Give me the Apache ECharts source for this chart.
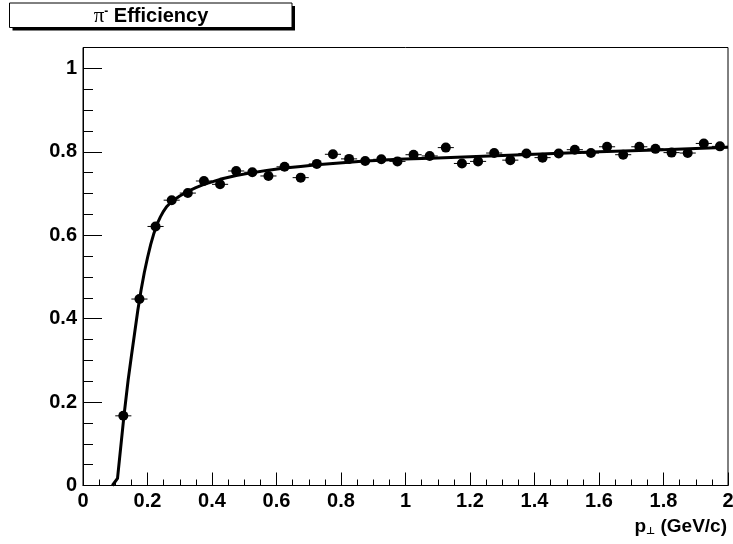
<!DOCTYPE html>
<html>
<head>
<meta charset="utf-8">
<title>pi- Efficiency</title>
<script src="https://cdn.jsdelivr.net/npm/echarts@6/dist/echarts.min.js"></script>
<style>
  html, body { margin: 0; padding: 0; background: #fff; }
  #chart { width: 733px; height: 544px; }
</style>
</head>
<body>
<div id="chart"></div>
<script>
// measured points (bin centres, bin width 0.05)
const binCenters = [0.125, 0.175, 0.225, 0.275, 0.325, 0.375, 0.425, 0.475, 0.525, 0.575,
  0.625, 0.675, 0.725, 0.775, 0.825, 0.875, 0.925, 0.975, 1.025, 1.075,
  1.125, 1.175, 1.225, 1.275, 1.325, 1.375, 1.425, 1.475, 1.525, 1.575,
  1.625, 1.675, 1.725, 1.775, 1.825, 1.875, 1.925, 1.975];
const efficiency = [0.167, 0.447, 0.621, 0.684, 0.701, 0.730, 0.722, 0.754, 0.751, 0.742,
  0.764, 0.738, 0.771, 0.794, 0.783, 0.778, 0.782, 0.777, 0.793, 0.790,
  0.810, 0.772, 0.777, 0.797, 0.780, 0.796, 0.786, 0.796, 0.805, 0.797,
  0.812, 0.793, 0.812, 0.807, 0.798, 0.797, 0.820, 0.813];
const binHalfWidth = 0.025;

// fit curve
const fitX = [0.091, 0.107, 0.127, 0.14, 0.15, 0.16, 0.17, 0.18, 0.19, 0.2,
  0.21, 0.22, 0.23, 0.24, 0.25, 0.26, 0.275, 0.3, 0.325, 0.35,
  0.375, 0.425, 0.475, 0.525, 0.575, 0.625, 0.675, 0.725, 0.775, 0.825,
  0.875, 0.925, 0.975, 1.1, 1.2, 1.4, 1.6, 1.8, 2.0];
const fitY = [0, 0.017, 0.167, 0.253, 0.31, 0.365, 0.42, 0.468, 0.51, 0.546,
  0.578, 0.605, 0.627, 0.644, 0.658, 0.669, 0.681, 0.694, 0.705, 0.714,
  0.722, 0.734, 0.743, 0.750, 0.756, 0.761, 0.765, 0.769, 0.772, 0.775,
  0.778, 0.780, 0.782, 0.785, 0.788, 0.794, 0.800, 0.805, 0.811];

// axis ticks
const yMajorTicks = [0, 0.2, 0.4, 0.6, 0.8, 1];
const yMinorTicks = [0.05, 0.1, 0.15, 0.25, 0.3, 0.35, 0.45, 0.5, 0.55, 0.65, 0.7, 0.75,
  0.85, 0.9, 0.95, 1.05];

const FONT = '"Liberation Sans", Arial, Helvetica, sans-serif';
const labelStyle = { color: '#000', fontFamily: FONT, fontWeight: 'bold', fontSize: 20 };

var myChart = echarts.init(document.getElementById('chart'), null, { renderer: 'canvas' });

myChart.setOption({
  animation: false,
  backgroundColor: '#fff',
  grid: {
    left: 83, right: 5, top: 47.5, bottom: 58.5,
    show: true, borderColor: '#000', borderWidth: 1,
    outerBoundsMode: 'none'
  },
  xAxis: {
    type: 'value',
    min: 0, max: 2, interval: 0.2,
    axisLine: { onZero: false, lineStyle: { color: '#000', width: 1 } },
    axisTick: { inside: true, length: 13, lineStyle: { color: '#000' } },
    minorTick: { show: true, splitNumber: 4, length: 6, lineStyle: { color: '#000' } },
    splitLine: { show: false },
    axisLabel: Object.assign({ margin: 6 }, labelStyle)
  },
  yAxis: [{
    type: 'value',
    min: 0, max: 1.05,
    axisLine: { show: true, onZero: false, lineStyle: { color: '#000', width: 1 } },
    axisTick: { show: true, inside: true, length: 19, customValues: yMajorTicks, lineStyle: { color: '#000' } },
    splitLine: { show: false },
    axisLabel: Object.assign({ margin: 6, customValues: yMajorTicks }, labelStyle)
  }, {
    type: 'value',
    position: 'left',
    min: 0, max: 1.05,
    axisLine: { show: false },
    axisTick: { show: true, inside: true, length: 10, customValues: yMinorTicks, lineStyle: { color: '#000' } },
    splitLine: { show: false },
    axisLabel: { show: false }
  }],
  series: [{
    type: 'line',
    data: fitX.map((x, i) => [x, fitY[i]]),
    showSymbol: false,
    lineStyle: { color: '#000', width: 3, join: 'round' },
    z: 2
  }, {
    type: 'custom',
    data: binCenters.map((x, i) => [x, efficiency[i]]),
    renderItem: function (params, api) {
      const p0 = api.coord([api.value(0) - binHalfWidth, api.value(1)]);
      const p1 = api.coord([api.value(0) + binHalfWidth, api.value(1)]);
      return {
        type: 'line',
        shape: { x1: p0[0], y1: p0[1], x2: p1[0], y2: p1[1] },
        style: { stroke: '#000', lineWidth: 1 }
      };
    },
    z: 3
  }, {
    type: 'scatter',
    data: binCenters.map((x, i) => [x, efficiency[i]]),
    symbol: 'circle',
    symbolSize: 10,
    itemStyle: { color: '#000', opacity: 1 },
    z: 4
  }],
  graphic: [
    // title box with shadow
    { type: 'rect', shape: { x: 12.5, y: 6, width: 282.5, height: 24.5 }, style: { fill: '#000' }, z: 10 },
    { type: 'rect', shape: { x: 9.5, y: 3, width: 282.5, height: 24.5 }, style: { fill: '#fff', stroke: '#000', lineWidth: 1 }, z: 11 },
    {
      type: 'text', x: 151, y: 16.5, z: 12,
      style: {
        text: '{pi|π}{sup|-}{t| Efficiency}',
        align: 'center', verticalAlign: 'middle',
        rich: {
          pi: { fontFamily: '"Liberation Serif", "DejaVu Serif", serif', fontSize: 21, fill: '#000' },
          sup: { fontFamily: FONT, fontWeight: 'bold', fontSize: 12, fill: '#000', verticalAlign: 'top', padding: [0, 0, 8, 0] },
          t: { fontFamily: FONT, fontWeight: 'bold', fontSize: 20, fill: '#000' }
        }
      }
    },
    // x-axis title
    {
      type: 'text', x: 727, y: 527, z: 12,
      style: {
        text: '{p|p}{sub|⊥}{t| (GeV/c)}',
        align: 'right', verticalAlign: 'middle',
        rich: {
          p: { fontFamily: FONT, fontWeight: 'bold', fontSize: 19, fill: '#000' },
          sub: { fontFamily: '"DejaVu Sans", sans-serif', fontWeight: 'bold', fontSize: 10, fill: '#000', verticalAlign: 'bottom', padding: [9, 0, 0, 0] },
          t: { fontFamily: FONT, fontWeight: 'bold', fontSize: 19, fill: '#000' }
        }
      }
    }
  ]
});
</script>
</body>
</html>
